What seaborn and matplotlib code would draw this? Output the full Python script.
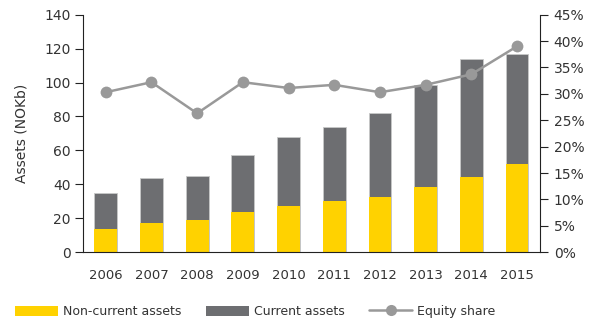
import matplotlib
matplotlib.use("Agg")
import matplotlib.pyplot as plt
import matplotlib.ticker as mticker
from matplotlib.patches import Patch
from matplotlib.lines import Line2D
import numpy as np
import pandas as pd
import seaborn as sns

years = ["2006", "2007", "2008", "2009", "2010", "2011", "2012", "2013", "2014", "2015"]
non_current = [13.4, 17.3, 18.7, 23.6, 27.1, 30.1, 32.8, 38.3, 44.2, 51.7]
current = [21.2, 26.5, 26.3, 33.8, 40.9, 43.6, 49.0, 60.0, 69.8, 65.1]
equity_share = [30.3, 32.2, 26.3, 32.2, 31.1, 31.7, 30.3, 31.7, 33.7, 39.0]

YELLOW = "#FFD200"
GREY = "#6D6E71"
LINE = "#999999"
TEXT = "#333333"

sns.set_theme(style="white")
plt.rcParams["font.family"] = ["DejaVu Sans"]
plt.rcParams["text.color"] = TEXT
plt.rcParams["axes.labelcolor"] = TEXT
plt.rcParams["xtick.color"] = TEXT
plt.rcParams["ytick.color"] = TEXT

df = pd.DataFrame({
    "year": years,
    "non_current": non_current,
    "current": current,
    "equity": equity_share,
})
df["total"] = df["non_current"] + df["current"]

fig = plt.figure(figsize=(5.92, 3.25), dpi=100)
ax = fig.add_axes([0.140, 0.224, 0.772, 0.731])

sns.barplot(data=df, x="year", y="total", color=GREY, width=0.5,
            edgecolor="#C8C8C8", linewidth=0.6, saturation=1, ax=ax)
sns.barplot(data=df, x="year", y="non_current", color=YELLOW, width=0.5,
            edgecolor="none", linewidth=0, saturation=1, ax=ax)

ax.set_xlim(-0.5, len(years) - 0.5)
ax.set_ylim(0, 140)
ax.set_yticks(np.arange(0, 141, 20))
ax.set_xlabel("")
ax.set_ylabel("Assets (NOKb)", fontsize=10, labelpad=11)

# category labels at centres, tick marks on the boundaries
ax.set_xticks(np.arange(len(years)))
ax.set_xticklabels(years)
ax.tick_params(axis="x", which="major", length=0, pad=12, labelsize=9.5)
ax.set_xticks(np.arange(len(years) + 1) - 0.5, minor=True)
ax.tick_params(axis="x", which="minor", length=7, width=0.8, color="#222222", direction="out")
ax.tick_params(axis="y", length=6, width=0.8, color="#222222", direction="out", pad=3, labelsize=10, left=True)

for side in ["left", "bottom"]:
    ax.spines[side].set_color("#222222")
    ax.spines[side].set_linewidth(0.8)
ax.spines["top"].set_visible(False)
ax.spines["right"].set_visible(False)

ax2 = ax.twinx()
sns.lineplot(x=np.arange(len(years)), y=df["equity"], color=LINE, linewidth=1.8,
             marker="o", markersize=8.5, markeredgewidth=0, ax=ax2)
ax2.set_ylim(0, 45)
ax2.set_yticks(np.arange(0, 46, 5))
ax2.yaxis.set_major_formatter(mticker.FuncFormatter(lambda v, _: f"{v:.0f}%"))
ax2.set_ylabel("")
ax2.tick_params(axis="y", length=6, width=0.8, color="#222222", direction="out", pad=4, labelsize=10, right=True)
ax2.spines["right"].set_visible(True)
ax2.spines["right"].set_color("#222222")
ax2.spines["right"].set_linewidth(0.8)
for side in ["top", "left", "bottom"]:
    ax2.spines[side].set_visible(False)
ax2.grid(False)
ax.grid(False)

handles = [
    Patch(facecolor=YELLOW, edgecolor="none"),
    Patch(facecolor=GREY, edgecolor="none"),
    Line2D([0], [0], color=LINE, linewidth=1.8, marker="o", markersize=8, markeredgewidth=0),
]
labels = ["Non-current assets", "Current assets", "Equity share"]
fig.legend(handles, labels, loc="center left", bbox_to_anchor=(0.011, 0.041), ncol=3,
           frameon=False, fontsize=9, handlelength=3.4, handleheight=0.9,
           handletextpad=0.4, columnspacing=2.0, borderpad=0.2)

fig.savefig("out.png", dpi=100)
